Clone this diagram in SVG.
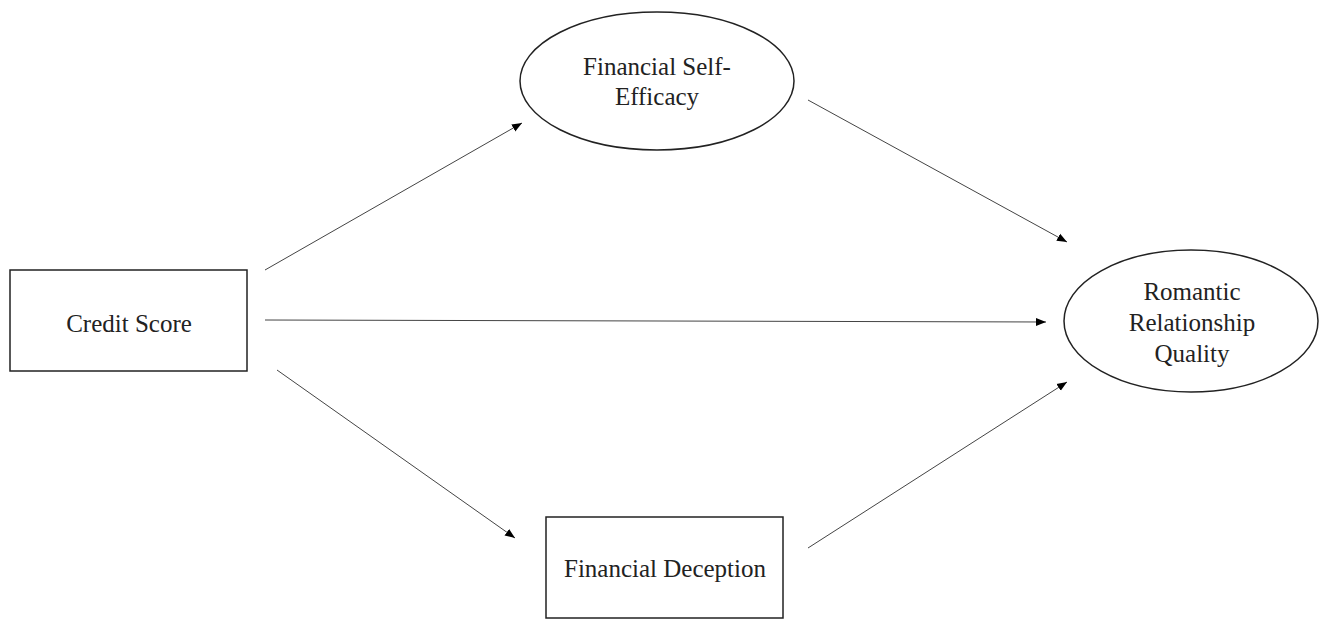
<svg xmlns="http://www.w3.org/2000/svg" width="1325" height="619" viewBox="0 0 1325 619">
<style>
.box{fill:#fff;stroke:#222;stroke-width:1.5}
.lbl{font-family:"Times New Roman","Liberation Serif","DejaVu Serif",serif;font-size:25px;fill:#222;text-anchor:middle}
.edge{stroke:#444;stroke-width:1;fill:none;marker-end:url(#ah)}
</style>
<defs>
<marker id="ah" viewBox="0 0 10 10" refX="10" refY="5" markerWidth="10" markerHeight="10" markerUnits="userSpaceOnUse" orient="auto">
<path d="M0,1 L10,5 L0,9 Z" fill="#000"/>
</marker>
</defs>
<rect width="1325" height="619" fill="#fff"/>
<g id="connectors">
<line class="edge" x1="265" y1="270" x2="522" y2="123"/>
<line class="edge" x1="808" y1="100" x2="1067" y2="242"/>
<line class="edge" x1="265" y1="320" x2="1046" y2="322"/>
<line class="edge" x1="277" y1="370" x2="515" y2="538"/>
<line class="edge" x1="808" y1="548" x2="1067" y2="382"/>
</g>
<g id="credit-score">
<rect class="box" x="10" y="270" width="237" height="101"/>
<text class="lbl" x="129" y="332">Credit Score</text>
</g>
<g id="financial-self-efficacy">
<ellipse class="box" cx="657" cy="81" rx="137" ry="69"/>
<text class="lbl" x="657" y="75">Financial Self-</text>
<text class="lbl" x="657" y="105">Efficacy</text>
</g>
<g id="romantic-relationship-quality">
<ellipse class="box" cx="1191" cy="321" rx="127" ry="71"/>
<text class="lbl" x="1192" y="300">Romantic</text>
<text class="lbl" x="1192" y="331">Relationship</text>
<text class="lbl" x="1192" y="362">Quality</text>
</g>
<g id="financial-deception">
<rect class="box" x="546" y="517" width="237" height="101"/>
<text class="lbl" x="665" y="577">Financial Deception</text>
</g>
</svg>
